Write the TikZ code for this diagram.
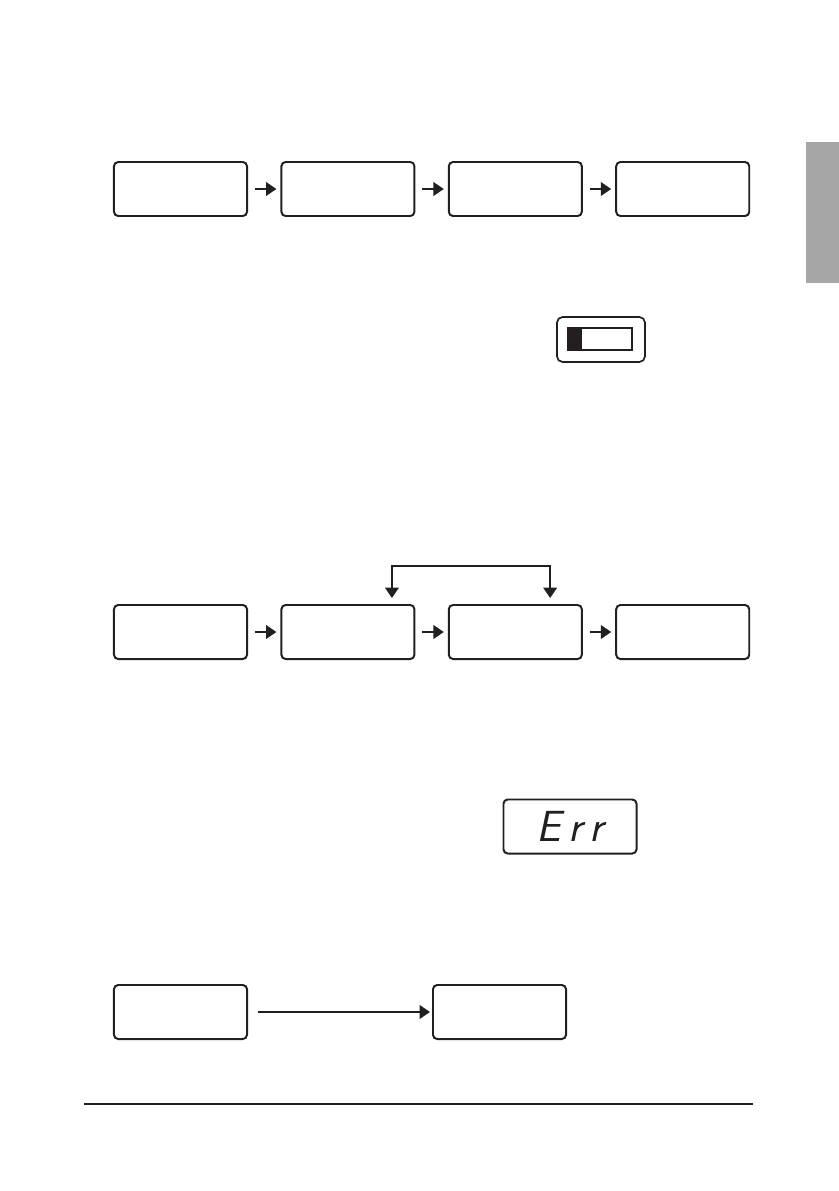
\documentclass[tikz,border=0pt]{standalone}
\usetikzlibrary{arrows.meta,positioning}
\definecolor{lcdInk}{HTML}{231F20}
\definecolor{tabGray}{HTML}{A7A6A7}
\newcommand{\segfont}{\sffamily\itshape\fontsize{31}{31}\selectfont}
\tikzset{
  screen/.style={draw=lcdInk,line width=1.4pt,rounded corners=3pt,minimum width=3.325cm,minimum height=1.35cm,inner sep=0pt},
  flow/.style={draw=lcdInk,line width=1.4pt,-{Triangle[length=2.6mm,width=3.4mm]}},
  twoway/.style={draw=lcdInk,line width=1.4pt,{Triangle[length=2.6mm,width=3.4mm]}-{Triangle[length=2.6mm,width=3.4mm]}},
}

\begin{document}
\begin{tikzpicture}[x=0.025cm,y=-0.025cm]
  \useasboundingbox (0,0) rectangle (839,1191);
  % side tab and page rule
  \fill[tabGray] (806,142) rectangle (839,283);
  \draw[lcdInk,line width=0.8pt] (84,1104) -- (753,1104);

  % first sequence
  \node[screen] (s1) at (180.5,189) {};
  \node[screen,right=0.81cm of s1] (s2) {};
  \node[screen,right=0.81cm of s2] (s3) {};
  \node[screen,right=0.81cm of s3] (s4) {};
  \foreach \a/\b in {s1/s2,s2/s3,s3/s4}
    \draw[flow,shorten <=0.17cm,shorten >=0.1cm] (\a) -- (\b);

  % battery symbol
  \node[draw=lcdInk,line width=1.2pt,rounded corners=4pt,minimum width=2.2cm,minimum height=1.125cm] (bat) at (601,339.5) {};
  \node[draw=lcdInk,line width=1pt,minimum width=1.6cm,minimum height=0.55cm,inner sep=0pt] (cell) at (600,339) {};
  \fill[lcdInk] (cell.north west) rectangle ([xshift=0.375cm]cell.south west);

  % second sequence
  \node[screen] (r1) at (180.5,632) {};
  \node[screen,right=0.81cm of r1] (r2) {};
  \node[screen,right=0.81cm of r2] (r3) {};
  \node[screen,right=0.81cm of r3] (r4) {};
  \foreach \a/\b in {r1/r2,r2/r3,r3/r4}
    \draw[flow,shorten <=0.17cm,shorten >=0.1cm] (\a) -- (\b);
  \coordinate (l2) at ([xshift=1.1cm,yshift=0.15cm]r2.north);
  \coordinate (l3) at ([xshift=0.87cm,yshift=0.15cm]r3.north);
  \coordinate (lt) at ([yshift=0.8cm]l2);
  \draw[twoway] (l2) -- (lt) -| (l3);

  % error display
  \node[screen,font=\segfont,text=lcdInk] (err) at (570,826.5) {E\,r\,r};

  % last step
  \node[screen] (e1) at (180.5,1012) {};
  \node[screen] (e2) at (499.5,1012) {};
  \draw[flow,shorten <=0.25cm,shorten >=0.05cm] (e1) -- (e2);
\end{tikzpicture}
\end{document}
